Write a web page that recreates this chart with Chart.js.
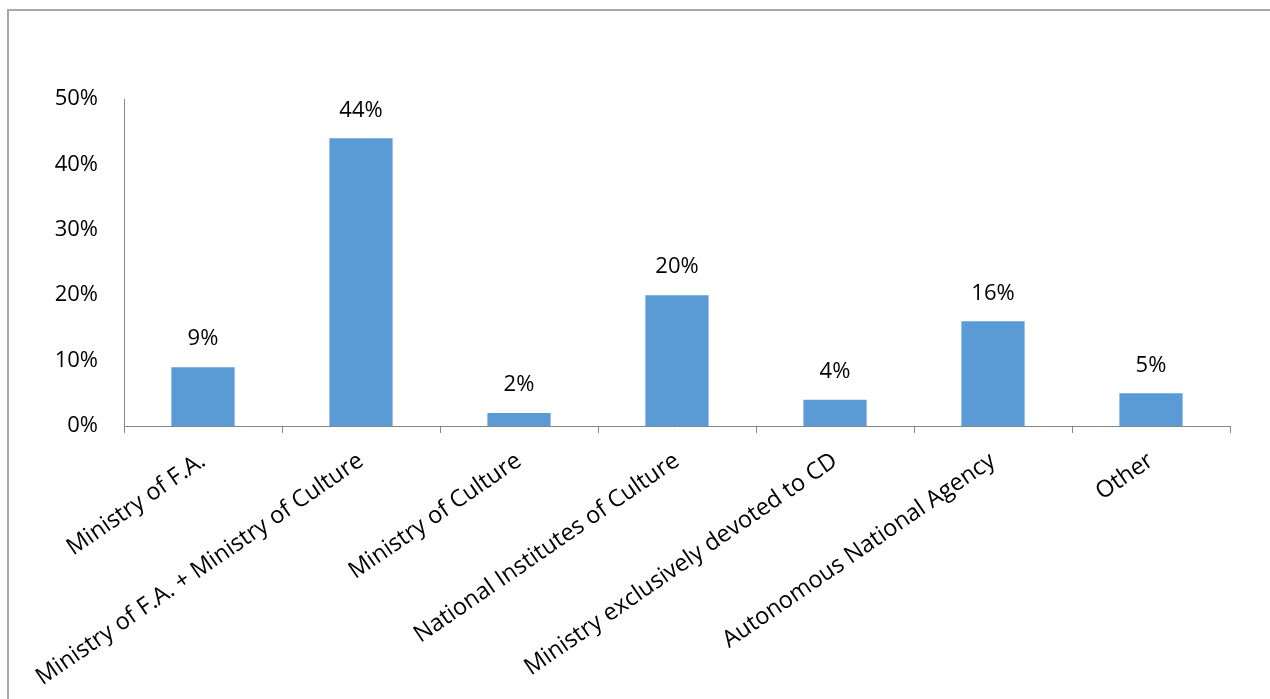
<!DOCTYPE html>
<html>
<head>
<meta charset="utf-8">
<script src="https://cdn.jsdelivr.net/npm/chart.js@4.4.1/dist/chart.umd.min.js"></script>
<style>
  html, body { margin: 0; padding: 0; background: #ffffff; overflow: hidden; }
  #wrap { position: relative; width: 1270px; height: 699px; }
  #frame { position: absolute; left: 7px; top: 9px; right: -10px; bottom: -10px;
           border-left: 2px solid #a8a8a8; border-top: 2px solid #a8a8a8; }
  canvas { position: absolute; left: 0; top: 0; }
</style>
</head>
<body>
<div id="wrap">
  <div id="frame"></div>
  <canvas id="c" width="1270" height="699"></canvas>
</div>
<script>
// Categories and shares (percent)
const categories = [
  "Ministry of F.A.",
  "Ministry of F.A. + Ministry of Culture",
  "Ministry of Culture",
  "National Institutes of Culture",
  "Ministry exclusively devoted to CD",
  "Autonomous National Agency",
  "Other"
];
const shares = [9, 44, 2, 20, 4, 16, 5];
const yTicks = [0, 10, 20, 30, 40, 50];

const FONT = "'Open Sans', 'Noto Sans', sans-serif";

// Percent labels above each bar
const valueLabels = {
  id: 'valueLabels',
  afterDatasetsDraw(chart) {
    const ctx = chart.ctx;
    const meta = chart.getDatasetMeta(0);
    ctx.save();
    ctx.font = "22px " + FONT;
    ctx.fillStyle = '#000000';
    ctx.textAlign = 'center';
    ctx.textBaseline = 'middle';
    meta.data.forEach((bar, i) => {
      ctx.fillText(shares[i] + '%', bar.x, bar.y - 28);
    });
    ctx.restore();
  }
};

new Chart(document.getElementById('c'), {
  type: 'bar',
  data: {
    labels: categories,
    datasets: [{
      data: shares,
      backgroundColor: '#5b9bd5',
      borderWidth: 0,
      barPercentage: 0.4,
      categoryPercentage: 1.0
    }]
  },
  options: {
    responsive: false,
    animation: false,
    devicePixelRatio: 1,
    layout: { padding: { top: 99, right: 40, bottom: 0, left: 0 } },
    plugins: { legend: { display: false }, tooltip: { enabled: false } },
    scales: {
      x: {
        afterFit(scale) { scale.height = 273; },
        grid: {
          offset: true,
          drawOnChartArea: false,
          drawTicks: true,
          tickLength: 7,
          color: '#868686',
          lineWidth: 1
        },
        border: { color: '#868686', width: 1 },
        ticks: {
          color: '#000000',
          font: { family: FONT, size: 23.5 },
          maxRotation: 34.5,
          minRotation: 34.5,
          autoSkip: false,
          padding: 14
        }
      },
      y: {
        min: 0,
        max: 50,
        afterFit(scale) { scale.width = 124; },
        afterBuildTicks(scale) { scale.ticks = yTicks.map(v => ({ value: v })); },
        grid: { display: false, drawTicks: false },
        border: { color: '#868686', width: 1 },
        ticks: {
          color: '#000000',
          font: { family: FONT, size: 22 },
          padding: 26,
          callback: v => v + '%'
        }
      }
    }
  },
  plugins: [valueLabels]
});
</script>
</body>
</html>
